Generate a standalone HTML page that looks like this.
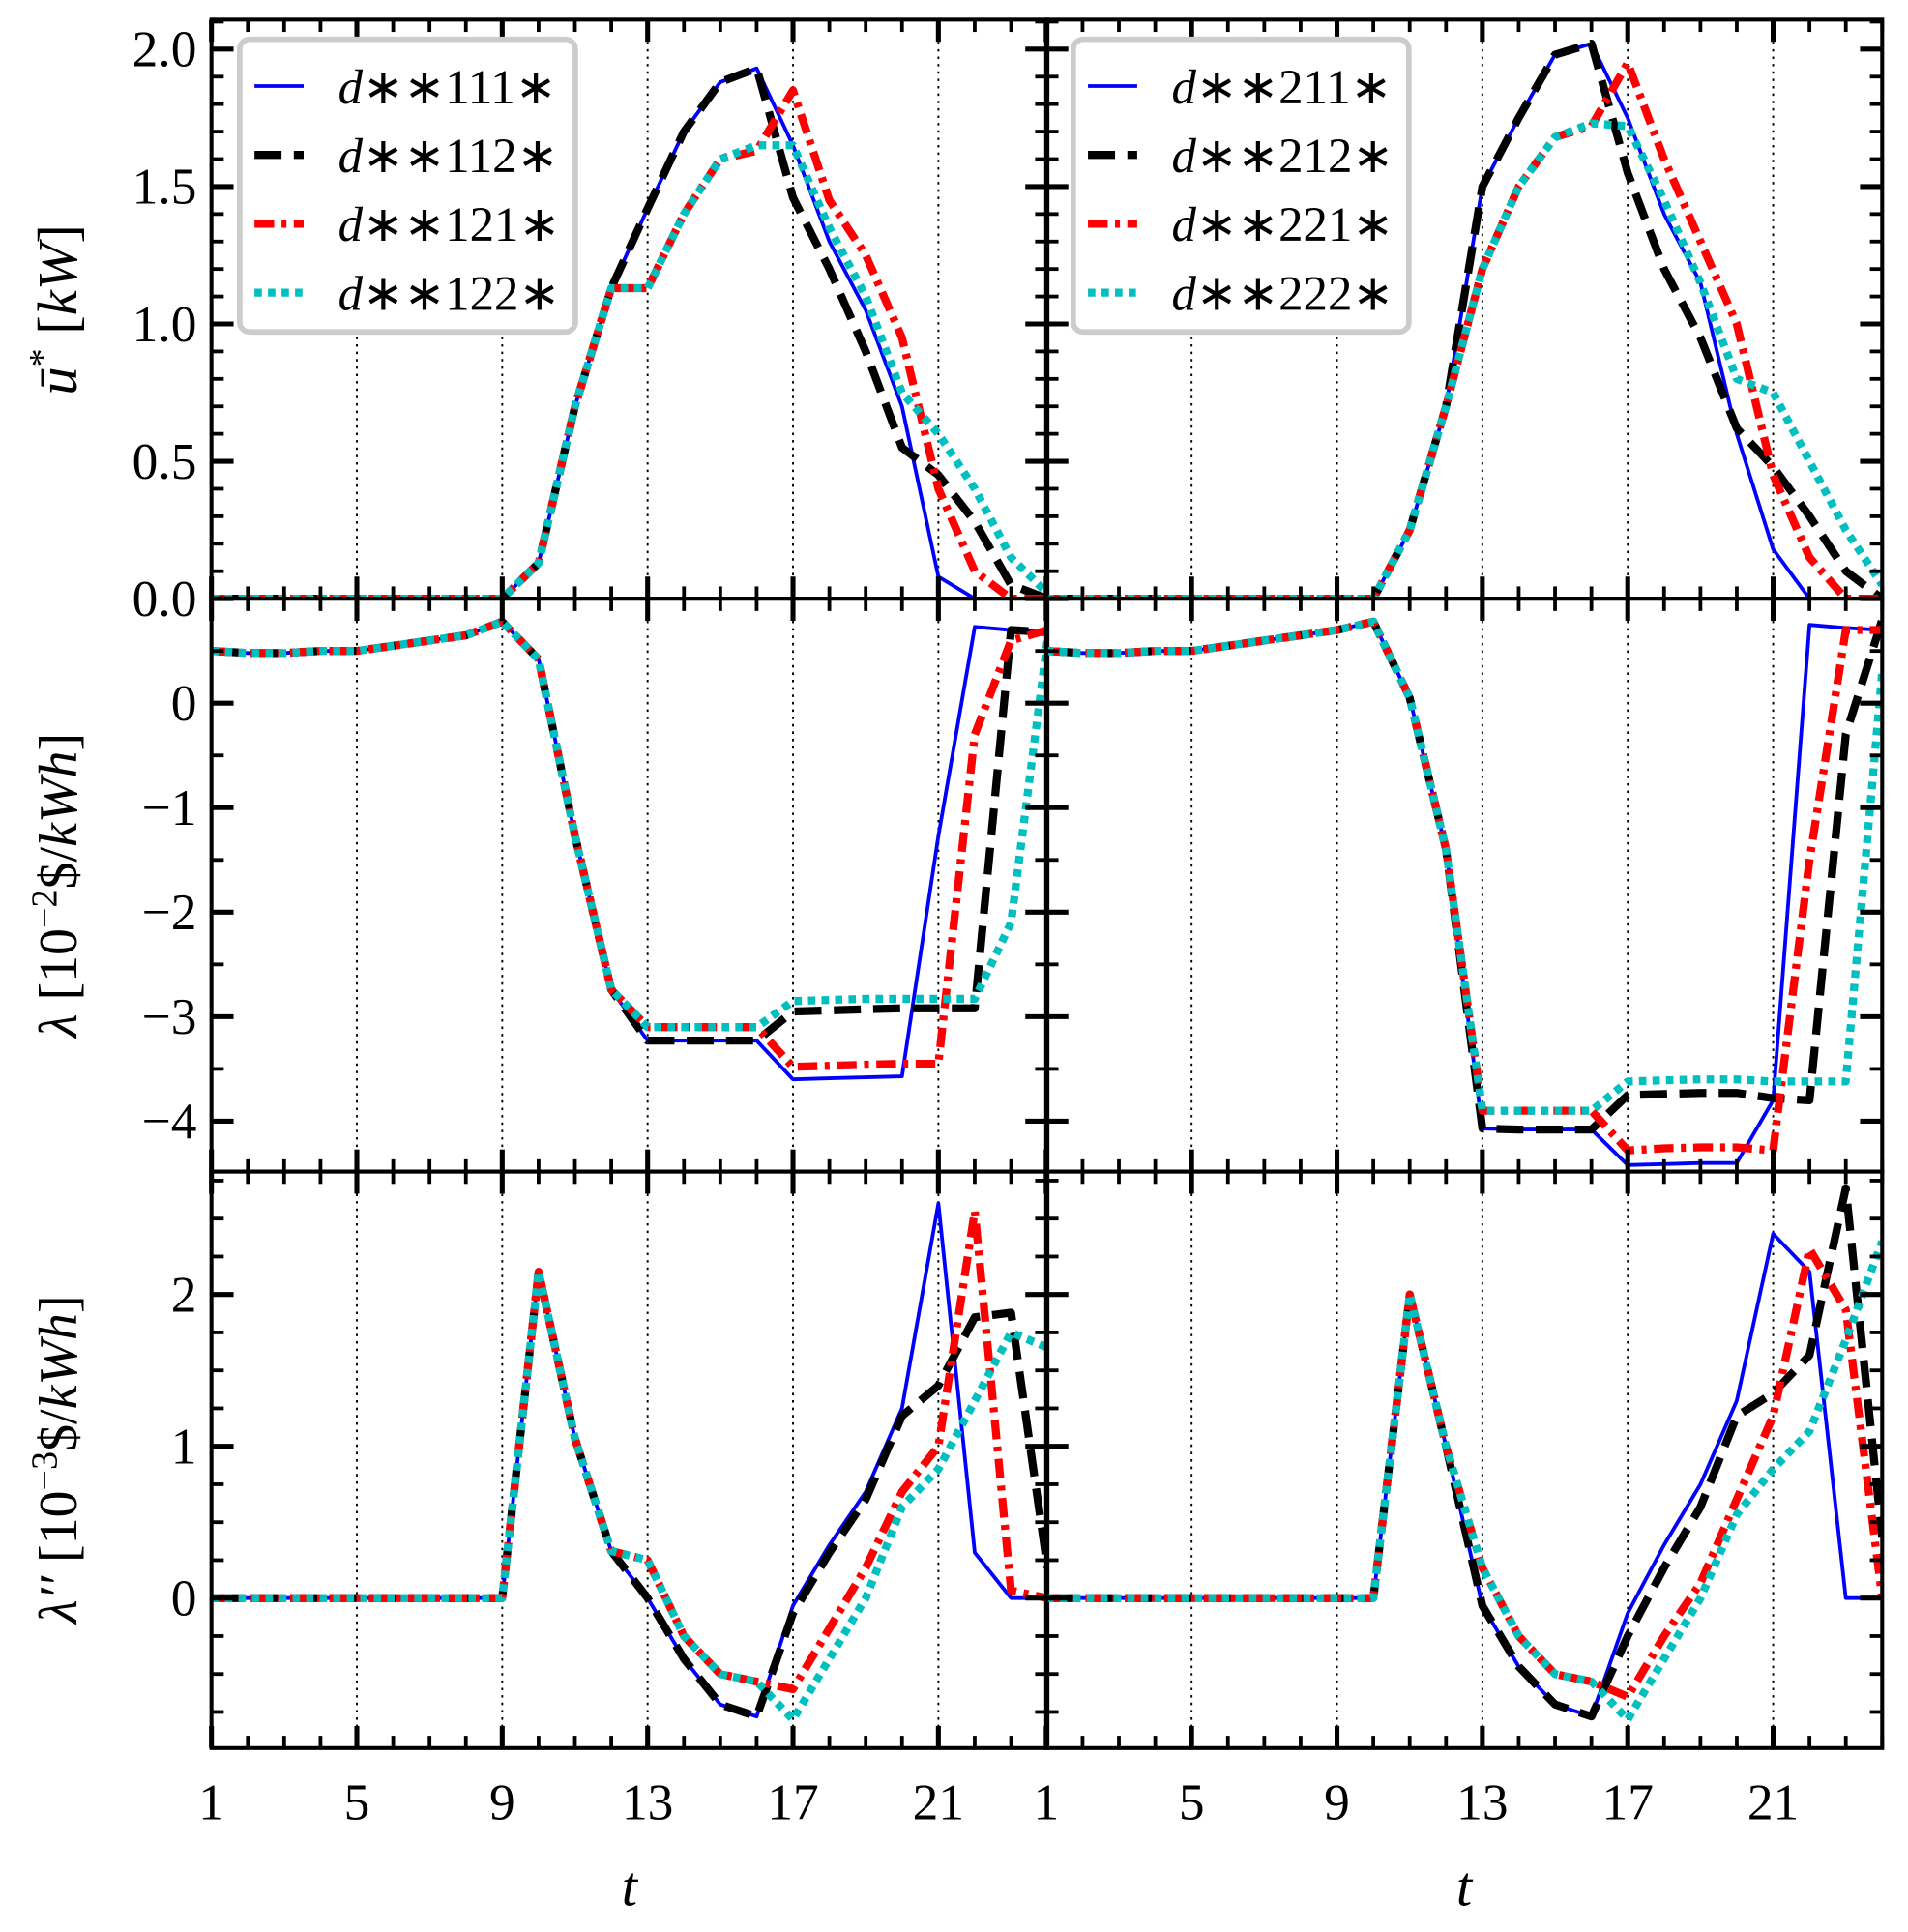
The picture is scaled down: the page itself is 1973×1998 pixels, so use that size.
<!DOCTYPE html>
<html><head><meta charset="utf-8"><style>html,body{margin:0;padding:0;background:#fff}svg{display:block}</style></head>
<body>
<svg id="s" width="1973" height="1998" viewBox="0 0 1552 1571.6" preserveAspectRatio="none" xmlns="http://www.w3.org/2000/svg" font-family="Liberation Serif, serif"></svg>
<script>
const S=document.getElementById('s');let h='';
const X0=[172,851],W=680;
function xp(p,t){return X0[p]+(t-1)*W/23;}
const rows=[
 {top:16,bot:487,y:v=>487-223.5*v,maj:[0,0.5,1,1.5,2],lab:['0.0','0.5','1.0','1.5','2.0'],mn:0.1,lo:0,hi:2.1},
 {top:487,bot:953,y:v=>572-85*v,maj:[-4,-3,-2,-1,0],lab:['−4','−3','−2','−1','0'],mn:0.5,lo:-4.48,hi:1},
 {top:953,bot:1422,y:v=>1300-123.5*v,maj:[0,1,2],lab:['0','1','2'],mn:0.25,lo:-0.99,hi:2.81}];
const st={b:'stroke="#0000ff" stroke-width="3" fill="none"',k:'stroke="#000" stroke-width="6.5" stroke-dasharray="22,10" fill="none"',r:'stroke="#ff0000" stroke-width="6.5" stroke-dasharray="16,6,4,6" fill="none"',c:'stroke="#00bfbf" stroke-width="6.5" stroke-dasharray="6,5" fill="none"'};
const z9=[0,0,0,0,0,0,0,0,0],z10=z9.concat([0]);
const D=[
[
 {b:z9.concat([.13,.7,1.13,1.42,1.7,1.88,1.93,1.65,1.3,1.05,.7,.08,0,0,0]),
  k:z9.concat([.13,.7,1.13,1.42,1.7,1.88,1.93,1.46,1.2,.9,.55,.45,.28,.05,0]),
  r:z9.concat([.13,.7,1.13,1.13,1.4,1.6,1.63,1.85,1.45,1.25,.95,.4,.1,0,0]),
  c:z9.concat([.13,.7,1.13,1.13,1.4,1.6,1.65,1.65,1.35,1.1,.75,.6,.4,.15,.02])},
 {b:z10.concat([.25,.7,1.5,1.75,1.98,2.02,1.75,1.4,1.15,.6,.18,0,0,0]),
  k:z10.concat([.25,.7,1.5,1.75,1.98,2.02,1.55,1.2,.95,.62,.48,.3,.1,0]),
  r:z10.concat([.25,.7,1.2,1.5,1.68,1.72,1.95,1.6,1.3,1.0,.45,.15,0,0]),
  c:z10.concat([.25,.7,1.2,1.5,1.68,1.73,1.72,1.45,1.15,.8,.75,.5,.25,.05])}],
[
 (()=>{const a=[.5,.48,.48,.5,.5,.55,.6,.65,.78,.42,-1.27,-2.74];return{
  b:a.concat([-3.23,-3.23,-3.23,-3.23,-3.6,-3.59,-3.58,-3.57,-1.27,.73,.7,.68]),
  k:a.concat([-3.23,-3.23,-3.23,-3.23,-2.95,-2.94,-2.93,-2.92,-2.92,-2.92,.7,.68]),
  r:a.concat([-3.1,-3.1,-3.1,-3.1,-3.48,-3.47,-3.46,-3.45,-3.45,-.3,.6,.7]),
  c:a.concat([-3.1,-3.1,-3.1,-3.1,-2.85,-2.84,-2.83,-2.83,-2.83,-2.83,-2.1,.6])}})(),
 (()=>{const a=[.5,.48,.48,.5,.5,.55,.6,.65,.7,.78,.05,-1.4];return{
  b:a.concat([-4.07,-4.08,-4.08,-4.08,-4.42,-4.41,-4.4,-4.4,-3.8,.75,.72,.7]),
  k:a.concat([-4.07,-4.08,-4.08,-4.08,-3.75,-3.74,-3.73,-3.73,-3.78,-3.8,-.3,.8]),
  r:a.concat([-3.9,-3.9,-3.9,-3.9,-4.28,-4.26,-4.25,-4.25,-4.28,-1.5,.7,.7]),
  c:a.concat([-3.9,-3.9,-3.9,-3.9,-3.62,-3.61,-3.6,-3.6,-3.62,-3.62,-3.62,.3])}})()],
[
 {b:z9.concat([2.15,1.05,.31,0,-.4,-.7,-.78,-.05,.35,.7,1.25,2.6,.3,0,0]),
  k:z9.concat([2.15,1.05,.31,0,-.4,-.7,-.78,-.1,.3,.65,1.2,1.4,1.85,1.88,.2]),
  r:z9.concat([2.15,1.05,.31,.25,-.25,-.5,-.55,-.6,-.2,.2,.7,1.0,2.55,.05,0]),
  c:z9.concat([2.15,1.05,.31,.25,-.25,-.5,-.55,-.8,-.4,0,.6,.85,1.3,1.75,1.65])},
 {b:z10.concat([2.0,1.0,-.05,-.45,-.7,-.78,-.1,.35,.75,1.3,2.4,2.15,0,0]),
  k:z10.concat([2.0,1.0,-.05,-.45,-.7,-.78,-.25,.2,.6,1.2,1.35,1.6,2.7,.4]),
  r:z10.concat([2.0,1.0,.2,-.25,-.5,-.55,-.65,-.25,.1,.65,1.2,2.3,1.9,0]),
  c:z10.concat([2.0,1.0,.2,-.25,-.5,-.55,-.8,-.4,0,.55,.85,1.1,1.7,2.35])}]];
rows.forEach((R,ri)=>{[0,1].forEach(p=>{
  const L=X0[p],Rr=X0[p]+W;
  [5,9,13,17,21].forEach(t=>{h+=`<line x1="${xp(p,t)}" x2="${xp(p,t)}" y1="${R.top}" y2="${R.bot}" stroke="#000" stroke-width="1.5" stroke-dasharray="2,4"/>`;});
  h+=`<clipPath id="c${ri}${p}"><rect x="${L}" y="${R.top}" width="${W}" height="${R.bot-R.top}"/></clipPath><g clip-path="url(#c${ri}${p})">`;
  ['b','k','r','c'].forEach(k=>{const d=D[ri][p][k];h+=`<polyline ${st[k]} stroke-linejoin="round" points="${d.map((v,i)=>xp(p,i+1).toFixed(1)+','+R.y(v).toFixed(1)).join(' ')}"/>`;});
  h+='</g>';
  for(let t=1;t<=24;t++){const x=xp(p,t),m=[1,5,9,13,17,21].includes(t),l=m?18:10;
    h+=`<line x1="${x}" x2="${x}" y1="${R.bot}" y2="${R.bot-l}" stroke="#000" stroke-width="${m?4:3}"/><line x1="${x}" x2="${x}" y1="${R.top}" y2="${R.top+l}" stroke="#000" stroke-width="${m?4:3}"/>`;}
  for(let v=Math.ceil(R.lo/R.mn)*R.mn;v<=R.hi+1e-9;v+=R.mn){const y=R.y(v);if(y<R.top-1||y>R.bot+1)continue;
    const m=R.maj.some(q=>Math.abs(q-v)<1e-6),l=m?18:10;
    h+=`<line x1="${L}" x2="${L+l}" y1="${y}" y2="${y}" stroke="#000" stroke-width="${m?4:3}"/><line x1="${Rr}" x2="${Rr-l}" y1="${y}" y2="${y}" stroke="#000" stroke-width="${m?4:3}"/>`;}
  h+=`<rect x="${L}" y="${R.top}" width="${W}" height="${R.bot-R.top}" fill="none" stroke="#000" stroke-width="3.2"/>`;
 });
 R.maj.forEach((v,i)=>{h+=`<text x="160" y="${R.y(v)+14}" font-size="42" text-anchor="end">${R.lab[i]}</text>`;});
});
[0,1].forEach(p=>{[1,5,9,13,17,21].forEach(t=>{h+=`<text x="${xp(p,t)}" y="1480" font-size="42" text-anchor="middle">${t}</text>`;});
 h+=`<text x="${X0[p]+W/2}" y="1550" font-size="46" font-style="italic" text-anchor="middle">t</text>`;});
h+=`<text transform="translate(62,252) rotate(-90)" font-size="46" text-anchor="middle"><tspan font-style="italic">ū</tspan><tspan font-size="30" dy="-18">*</tspan><tspan dy="18"> [</tspan><tspan font-style="italic">kW</tspan>]</text>`;
h+=`<text transform="translate(62,720) rotate(-90)" font-size="44" text-anchor="middle"><tspan font-style="italic">λ</tspan> [10<tspan font-size="30" dy="-16">−2</tspan><tspan dy="16">$/</tspan><tspan font-style="italic">kWh</tspan>]</text>`;
h+=`<text transform="translate(62,1187) rotate(-90)" font-size="44" text-anchor="middle"><tspan font-style="italic">λ′′</tspan> [10<tspan font-size="30" dy="-16">−3</tspan><tspan dy="16">$/</tspan><tspan font-style="italic">kWh</tspan>]</text>`;
[[195,['111','112','121','122']],[873,['211','212','221','222']]].forEach(([lx,labs])=>{
 h+=`<rect x="${lx}" y="32" width="273" height="238" rx="8" fill="#fff" stroke="#cccccc" stroke-width="4.5"/>`;
 ['b','k','r','c'].forEach((k,i)=>{const y=70+i*56;
  h+=`<line x1="${lx+12}" x2="${lx+52}" y1="${y}" y2="${y}" ${st[k]}/>`;
  h+=`<text x="${lx+80}" y="${y+14}" font-size="40"><tspan font-style="italic">d</tspan>∗∗${labs[i]}∗</text>`;});
});
S.innerHTML=h;
</script>
</body></html>
